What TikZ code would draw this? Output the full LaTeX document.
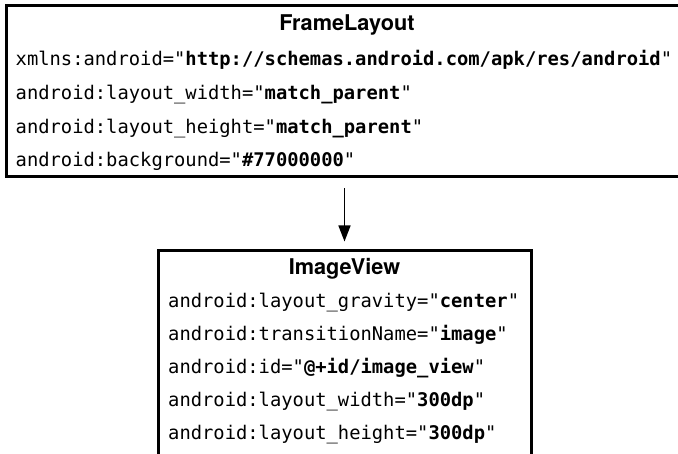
\documentclass[tikz,border=0pt]{standalone}
\usepackage{fontspec}
\setmonofont{DejaVu Sans Mono}
\newfontfamily\titlefont{TeX Gyre Heros}
\usetikzlibrary{arrows.meta}
\tikzset{
  box/.style={draw=black, line width=3pt, inner sep=0pt},
  row/.style={anchor=base west, inner sep=0pt, font=\ttfamily\fontsize{18.8}{22}\selectfont},
  title/.style={anchor=base, inner sep=0pt, font=\titlefont\bfseries\fontsize{21.7}{24}\selectfont},
  arr/.style={-{Triangle[width=12pt,length=16pt]}, line width=1.5pt}
}
\begin{document}
\begin{tikzpicture}[x=1pt,y=-1pt]
\useasboundingbox (0,0) rectangle (678,454);
\clip (0,0) rectangle (678,454);
% boxes
\node[box, minimum width=682pt, minimum height=171pt] (frame) at (347,91.5) {};
\node[box, minimum width=373pt, minimum height=230pt] (imgv) at (344.5,366) {};
% FrameLayout
\node[title] (ft) at (347,30.5) {FrameLayout};
\node[row] (f1) at (15.5,66) {xmlns:android="{\bfseries http://schemas.android.com/apk/res/android}"};
\node[row] (f2) at (15.5,100) {android:layout\_width="{\bfseries match\_parent}"};
\node[row] (f3) at (15.5,133.5) {android:layout\_height="{\bfseries match\_parent}"};
\node[row] (f4) at (15.5,167) {android:background="{\bfseries \#77000000}"};
% ImageView
\node[title] (it) at (344.5,275) {ImageView};
\node[row] (i1) at (168,308) {android:layout\_gravity="{\bfseries center}"};
\node[row] (i2) at (168,340.5) {android:transitionName="{\bfseries image}"};
\node[row] (i3) at (168,373.5) {android:id="{\bfseries @+id/image\_view}"};
\node[row] (i4) at (168,406.5) {android:layout\_width="{\bfseries 300dp}"};
\node[row] (i5) at (168,439.5) {android:layout\_height="{\bfseries 300dp}"};
% connector
\draw[arr] ([yshift=-10pt]frame.south -| imgv.north) -- ([yshift=8pt]imgv.north);
\end{tikzpicture}
\end{document}
